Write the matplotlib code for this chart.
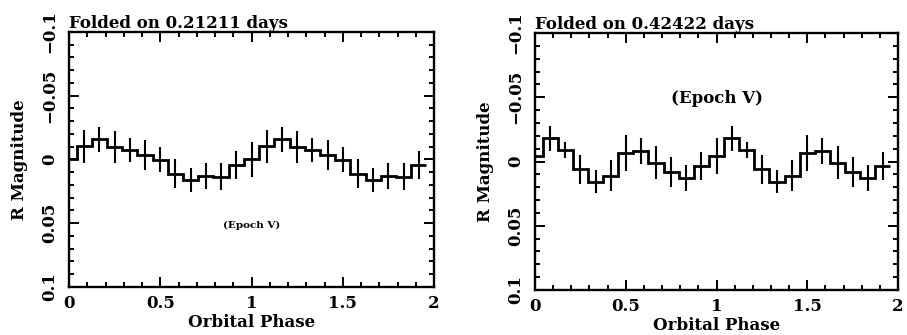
import numpy as np
import matplotlib
matplotlib.use("Agg")
import matplotlib.pyplot as plt
from matplotlib.ticker import MultipleLocator, FixedLocator, FixedFormatter

# ---- data (one folded cycle, shown twice) ----
n_bins = 12
cycle_phase = [0.0, 1/12, 2/12, 3/12, 4/12, 5/12, 6/12, 7/12, 8/12, 9/12, 10/12, 11/12]

left_mag = [0.0, -0.0103, -0.0157, -0.0100, -0.0075, -0.0035,
            0.0003, 0.0110, 0.0160, 0.0130, 0.0135, 0.0040]
left_err = [0.0135, 0.0130, 0.0095, 0.0124, 0.0095, 0.0118,
            0.0098, 0.0110, 0.0092, 0.0105, 0.0107, 0.0110]

right_mag = [-0.0045, -0.0180, -0.0090, 0.0060, 0.0156, 0.0110,
             -0.0065, -0.0082, 0.0008, 0.0083, 0.0130, 0.0034]
right_err = [0.0140, 0.0100, 0.0060, 0.0113, 0.0087, 0.0120,
             0.0140, 0.0100, 0.0130, 0.0116, 0.0100, 0.0110]

titles = ["Folded on 0.21211 days", "Folded on 0.42422 days"]
ytick_vals = [-0.1, -0.05, 0.0, 0.05, 0.1]
ytick_labels = ["\u22120.1", "\u22120.05", "0", "0.05", "0.1"]
xtick_vals = [0, 0.5, 1, 1.5, 2]
xtick_labels = ["0", "0.5", "1", "1.5", "2"]

FONT = "DejaVu Serif"
plt.rcParams["font.family"] = FONT
plt.rcParams["font.weight"] = "bold"

fig = plt.figure(figsize=(9.07, 3.35), dpi=100)
ax1 = fig.add_axes([0.0761, 0.1433, 0.4024, 0.7612])
ax2 = fig.add_axes([0.5899, 0.1343, 0.4002, 0.7672])

FS = 12


def draw(ax, mag, err, title, epoch_xy, epoch_size):
    phase = np.concatenate([np.array(cycle_phase), np.array(cycle_phase) + 1.0])
    m = np.concatenate([mag, mag])
    e = np.concatenate([err, err])
    w = 1.0 / n_bins
    edges = np.append(phase - w / 2, phase[-1] + w / 2)
    ax.stairs(m, edges, baseline=None, color="black", linewidth=2.0)
    ax.errorbar(phase, m, yerr=e, fmt="none", ecolor="black",
                elinewidth=1.5, capsize=0)
    ax.set_xlim(0, 2)
    ax.set_ylim(0.1, -0.1)
    ax.yaxis.set_major_locator(FixedLocator(ytick_vals))
    ax.yaxis.set_major_formatter(FixedFormatter(ytick_labels))
    ax.yaxis.set_minor_locator(MultipleLocator(0.01))
    ax.xaxis.set_major_locator(FixedLocator(xtick_vals))
    ax.xaxis.set_major_formatter(FixedFormatter(xtick_labels))
    ax.xaxis.set_minor_locator(MultipleLocator(0.1))
    ax.tick_params(which="both", direction="in", top=True, right=True,
                   width=1.4, colors="black")
    ax.tick_params(which="major", length=7, labelsize=FS)
    ax.tick_params(axis="x", which="major", pad=6)
    ax.tick_params(axis="y", which="major", pad=8)
    ax.tick_params(which="minor", length=3.5)
    for lab in ax.get_yticklabels():
        lab.set_rotation(90)
        lab.set_va("center")
        lab.set_fontweight("bold")
    for lab in ax.get_xticklabels():
        lab.set_fontweight("bold")
    for s in ax.spines.values():
        s.set_linewidth(1.7)
    ax.set_xlabel("Orbital Phase", fontsize=FS, fontweight="bold", labelpad=1)
    ax.set_ylabel("R Magnitude", fontsize=FS, fontweight="bold", labelpad=9)
    ax.set_title(title, loc="left", fontsize=FS, fontweight="bold", pad=3)
    ax.text(epoch_xy[0], epoch_xy[1], "(Epoch V)", ha="center", va="center",
            fontsize=epoch_size, fontweight="bold")


draw(ax1, left_mag, left_err, titles[0], (1.0, 0.0515), 7.5)
draw(ax2, right_mag, right_err, titles[1], (1.0, -0.049), 12)

fig.savefig("out.png", dpi=100)
